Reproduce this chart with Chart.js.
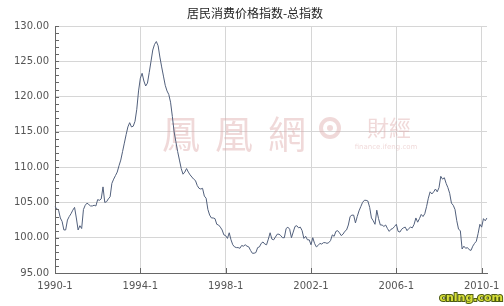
<!DOCTYPE html>
<html>
<head>
<meta charset="utf-8">
<script src="https://cdn.jsdelivr.net/npm/chart.js@4"></script>
<style>
  html, body { margin: 0; padding: 0; background: #fff; }
  #wrap { width: 504px; height: 306px; }
</style>
</head>
<body>
<div id="wrap"><canvas id="cpiChart"></canvas></div>
<script>
// 居民消费价格指数 (上年同月=100), 1990-1 .. 2010-4, 读图估计
const cpi1990s = [
  104.4, 104.1, 103.9, 102.8, 102.3, 101.1, 101.1, 102.5, 103.0, 103.4, 103.9, 104.3,
  102.8, 101.1, 101.7, 101.3, 104.0, 104.6, 104.9, 104.7, 104.5, 104.5, 104.6, 104.5,
  105.4, 105.3, 105.5, 107.2, 105.0, 105.1, 105.5, 105.8, 107.7, 108.3, 108.8, 109.3,
  110.2, 111.0, 112.2, 113.4, 114.6, 115.7, 116.3, 115.7, 115.8, 116.5, 118.2, 120.8,
  122.6, 123.3, 122.2, 121.5, 121.9, 123.4, 125.0, 126.6, 127.4, 127.8, 127.2, 125.6,
  124.2, 122.9, 121.6, 120.8, 120.3, 119.2, 117.2, 115.0, 113.6, 112.2, 111.0, 109.8,
  109.0, 109.3, 109.8, 109.3, 108.9, 108.6, 108.3, 108.1, 107.4, 107.0, 106.9, 107.0,
  105.9, 105.6, 104.0, 103.2, 102.8, 102.8, 102.7, 101.9, 101.8, 101.5, 101.1, 100.4,
  100.3, 99.9, 100.7, 99.7, 99.0, 98.7, 98.6, 98.6, 98.5, 98.9, 98.8, 99.0,
  98.8, 98.7, 98.2, 97.8, 97.8, 97.9, 98.6, 98.7, 99.2, 99.4, 99.1, 99.0
];
const cpi2000s = [
  99.8, 100.7, 99.8, 99.7, 100.1, 100.5, 100.5, 100.3, 100.0, 100.0, 101.3, 101.5,
  101.2, 100.0, 100.8, 101.6, 101.7, 101.4, 101.5, 101.0, 99.9, 100.2, 99.7, 99.7,
  99.0, 100.0, 99.2, 98.7, 98.9, 99.2, 99.1, 99.3, 99.3, 99.2, 99.3, 99.6,
  100.4, 100.2, 100.9, 101.0, 100.7, 100.3, 100.5, 100.9, 101.1, 101.8, 103.0, 103.2,
  103.2, 102.1, 103.0, 103.8, 104.4, 105.0, 105.3, 105.3, 105.2, 104.3, 102.8, 102.4,
  101.9, 103.9, 102.7, 101.8, 101.8, 101.6, 101.8, 101.3, 100.9, 101.2, 101.3, 101.6,
  101.9, 100.9, 100.8, 101.2, 101.4, 101.5, 101.0, 101.3, 101.5, 101.4, 101.9, 102.8,
  102.2, 102.7, 103.3, 103.0, 103.4, 104.4, 105.6, 106.5, 106.2, 106.5, 106.9, 106.5,
  107.1, 108.7, 108.3, 108.5, 107.7, 107.1, 106.3, 104.9, 104.6, 104.0, 102.4, 101.2,
  101.0, 98.4, 98.8, 98.5, 98.6, 98.3, 98.2, 98.8, 99.2, 99.5, 100.6, 101.9
];
const cpi2010 = [101.5, 102.7, 102.4, 102.8];

const chartTitle = '居民消费价格指数-总指数';
const tickLabels = ['1990-1', '1994-1', '1998-1', '2002-1', '2006-1', '2010-1'];
const yTicks = [95, 100, 105, 110, 115, 120, 125, 130];

const values = cpi1990s.concat(cpi2000s, cpi2010);
const months = values.map((v, i) => (1990 + Math.floor(i / 12)) + '-' + (i % 12 + 1));

const isMajor = i => tickLabels.includes(months[i]);

// 标题、小刻度、水印
const extras = {
  id: 'extras',
  beforeDatasetsDraw(chart) {
    const c = chart.ctx, a = chart.chartArea;
    c.save();
    c.fillStyle = 'rgba(222,170,170,0.45)';
    c.textAlign = 'center';
    c.textBaseline = 'middle';
    c.font = '38px "Noto Sans CJK TC"';
    ['鳳', '凰', '網'].forEach((ch, k) => c.fillText(ch, a.left + 126 + k * 53, a.top + 108));
    c.strokeStyle = 'rgba(222,170,170,0.45)';
    c.lineWidth = 4;
    c.beginPath();
    c.arc(a.left + 275, a.top + 102, 9, 0, Math.PI * 2);
    c.stroke();
    c.beginPath();
    c.arc(a.left + 275, a.top + 102, 3, 0, Math.PI * 2);
    c.fill();
    c.font = '22px "Noto Sans CJK TC"';
    c.fillText('財經', a.left + 334, a.top + 102);
    c.font = '7px "DejaVu Sans"';
    c.fillText('finance.ifeng.com', a.left + 331, a.top + 121);
    c.restore();
  },
  afterDraw(chart) {
    const c = chart.ctx, a = chart.chartArea;
    const ys = chart.scales.y, xs = chart.scales.x;
    c.save();
    c.fillStyle = '#222';
    c.textAlign = 'center';
    c.textBaseline = 'middle';
    c.font = '12px "Noto Sans CJK SC"';
    c.fillText(chartTitle, chart.width / 2 + 3, 13);

    c.strokeStyle = '#666';
    c.lineWidth = 1;
    c.beginPath();
    for (let v = ys.min; v <= ys.max; v++) {
      const y = Math.round(ys.getPixelForValue(v)) + 0.5;
      c.moveTo(a.left, y);
      c.lineTo(a.left + 4, y);
    }
    months.forEach((m, i) => {
      if (!isMajor(i)) return;
      const x = Math.round(xs.getPixelForValue(i)) + 0.5;
      c.moveTo(x, a.bottom);
      c.lineTo(x, a.bottom - 5);
    });
    c.stroke();

    c.font = 'bold 11px "DejaVu Sans"';
    c.textAlign = 'right';
    c.textBaseline = 'bottom';
    c.lineWidth = 2;
    c.strokeStyle = '#4f5d12';
    c.strokeText('cnlng.com', chart.width - 1, chart.height - 2);
    c.fillStyle = '#d8e03a';
    c.fillText('cnlng.com', chart.width - 1, chart.height - 2);
    c.restore();
  }
};

const ctx = document.getElementById('cpiChart');

new Chart(ctx, {
  type: 'line',
  data: {
    labels: months,
    datasets: [{
      label: chartTitle,
      data: values,
      borderColor: '#52607c',
      borderWidth: 1,
      pointRadius: 0,
      tension: 0,
      fill: false
    }]
  },
  options: {
    responsive: true,
    maintainAspectRatio: false,
    animation: false,
    layout: { padding: { left: 0, right: 17, top: 26, bottom: 0 } },
    plugins: {
      legend: { display: false },
      tooltip: { enabled: false },
      title: { display: false }
    },
    scales: {
      x: {
        type: 'category',
        offset: false,
        afterFit: s => { s.height = 33; },
        ticks: {
          autoSkip: false,
          maxRotation: 0,
          padding: 7,
          color: '#555',
          font: { family: '"DejaVu Sans"', size: 10 },
          callback: (v, i) => isMajor(i) ? months[i] : ''
        },
        grid: {
          drawTicks: false,
          color: c => isMajor(c.index) && c.index > 0 ? '#d6d6d6' : 'rgba(0,0,0,0)'
        },
        border: { color: '#666', width: 1 }
      },
      y: {
        min: 95,
        max: 130,
        afterFit: s => { s.width = 55; },
        afterBuildTicks: s => { s.ticks = yTicks.map(v => ({ value: v })); },
        ticks: {
          padding: 6,
          color: '#555',
          font: { family: '"DejaVu Sans"', size: 10 },
          callback: v => Number(v).toFixed(2)
        },
        grid: { drawTicks: false, color: '#d6d6d6' },
        border: { color: '#666', width: 1 }
      }
    }
  },
  plugins: [extras]
});
</script>
</body>
</html>
